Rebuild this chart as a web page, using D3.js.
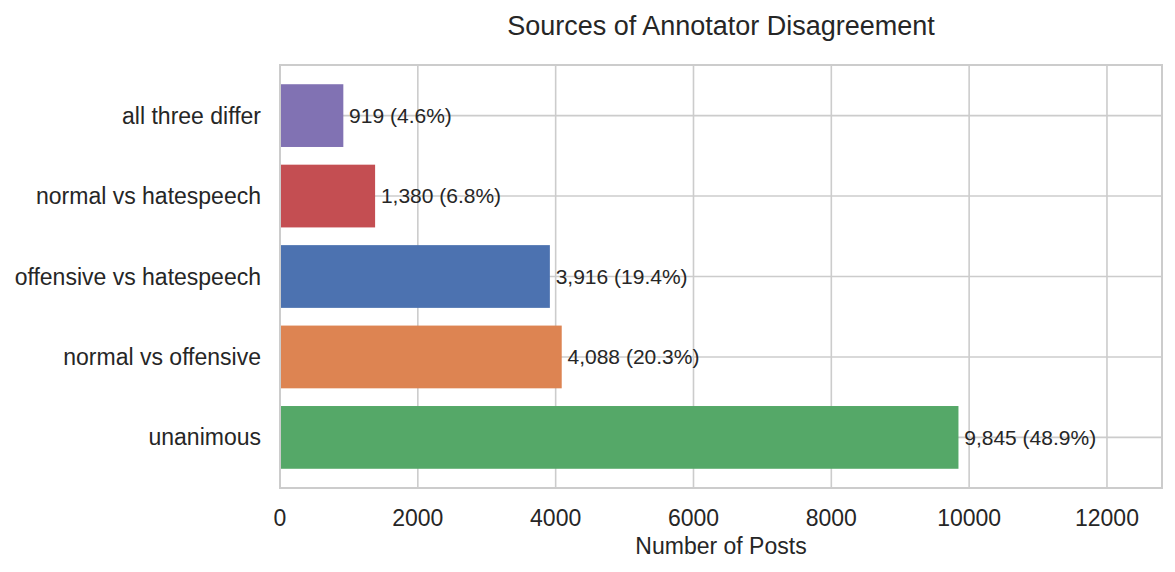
<!DOCTYPE html>
<html>
<head>
<meta charset="utf-8">
<script src="https://cdn.jsdelivr.net/npm/d3@7"></script>
<style>
  body { margin: 0; background: #fff; }
  svg text { font-family: "Liberation Sans", Arial, sans-serif; fill: #262626; }
</style>
</head>
<body>
<div id="chart"></div>
<script>
// Data (bottom to top, as drawn)
const categories = ["unanimous", "normal vs offensive", "offensive vs hatespeech", "normal vs hatespeech", "all three differ"];
const counts = [9845, 4088, 3916, 1380, 919];
const colors = ["#55A868", "#DD8452", "#4C72B0", "#C44E52", "#8172B3"];
const xTicks = [0, 2000, 4000, 6000, 8000, 10000, 12000];

const W = 1175, H = 572;
const margin = { top: 65, right: 13, bottom: 84, left: 280 };
const width = W - margin.left - margin.right;
const height = H - margin.top - margin.bottom;

const svg = d3.select("#chart").append("svg")
    .attr("width", W)
    .attr("height", H);

const g = svg.append("g")
    .attr("transform", `translate(${margin.left},${margin.top})`);

const total = d3.sum(counts);
const data = categories.map((c, i) => ({ cat: c, n: counts[i], color: colors[i], idx: i }));

// Scales
const x = d3.scaleLinear()
    .domain([0, d3.max(counts) * 1.3])
    .range([0, width]);

const barH = 0.78;
const pad = barH / 2 + 0.05 * (categories.length - 1 + barH);
const y = d3.scaleLinear()
    .domain([-pad, categories.length - 1 + pad])
    .range([height, 0]);

// Grid
g.append("g").selectAll("line")
    .data(xTicks)
    .join("line")
    .attr("x1", d => x(d)).attr("x2", d => x(d))
    .attr("y1", 0).attr("y2", height)
    .attr("stroke", "#cccccc")
    .attr("stroke-width", 1.6);

g.append("g").selectAll("line")
    .data(data)
    .join("line")
    .attr("x1", 0).attr("x2", width)
    .attr("y1", d => y(d.idx)).attr("y2", d => y(d.idx))
    .attr("stroke", "#cccccc")
    .attr("stroke-width", 1.6);

// Bars
g.append("g").selectAll("rect")
    .data(data)
    .join("rect")
    .attr("x", x(0))
    .attr("y", d => y(d.idx + barH / 2))
    .attr("width", d => x(d.n) - x(0))
    .attr("height", d => y(d.idx - barH / 2) - y(d.idx + barH / 2))
    .attr("fill", d => d.color);

// Value labels
g.append("g").selectAll("text")
    .data(data)
    .join("text")
    .attr("x", d => x(d.n + d3.max(counts) * 0.01) - 1)
    .attr("y", d => y(d.idx))
    .attr("dy", "0.35em")
    .style("font-size", "21px")
    .text(d => `${d3.format(",")(d.n)} (${(d.n / total * 100).toFixed(1)}%)`);

// Frame
g.append("rect")
    .attr("width", width)
    .attr("height", height)
    .attr("fill", "none")
    .attr("stroke", "#cccccc")
    .attr("stroke-width", 2);

// X tick labels
g.append("g").selectAll("text")
    .data(xTicks)
    .join("text")
    .attr("x", d => x(d))
    .attr("y", height + 38)
    .attr("text-anchor", "middle")
    .style("font-size", "23px")
    .text(d => d);

// Y tick labels
g.append("g").selectAll("text")
    .data(data)
    .join("text")
    .attr("x", -19)
    .attr("y", d => y(d.idx))
    .attr("dy", "0.35em")
    .attr("text-anchor", "end")
    .style("font-size", "23px")
    .text(d => d.cat);

// X-axis label
g.append("text")
    .attr("x", width / 2)
    .attr("y", height + 66)
    .attr("text-anchor", "middle")
    .style("font-size", "23px")
    .text("Number of Posts");

// Title
svg.append("text")
    .attr("x", margin.left + width / 2)
    .attr("y", 35)
    .attr("text-anchor", "middle")
    .style("font-size", "27px")
    .text("Sources of Annotator Disagreement");
</script>
</body>
</html>
